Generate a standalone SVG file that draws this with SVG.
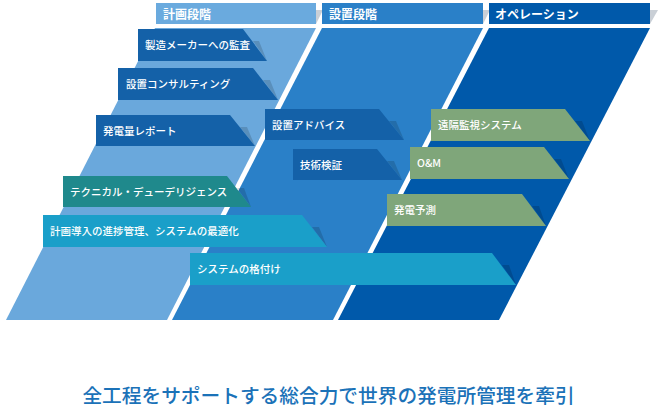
<svg xmlns="http://www.w3.org/2000/svg" width="664" height="416" viewBox="0 0 664 416">
<style>
.hd{font-family:"Noto Sans CJK JP","Noto Sans",sans-serif;font-size:12px;font-weight:bold;fill:#fff}
.bt{font-family:"Noto Sans CJK JP","Noto Sans",sans-serif;font-size:10.5px;font-weight:500;fill:#fff}
.sh{fill:#000;fill-opacity:0.15}
.hs{fill:#c9cfd6}
.b1{fill:#1461a8}
.b2{fill:#1f898c}
.b3{fill:#1a9fc9}
.b4{fill:#7fa67a}
.title{font-family:"Noto Sans CJK JP","Noto Sans",sans-serif;font-size:19.7px;font-weight:500;fill:#1b72b8}
</style>
<rect width="664" height="416" fill="#fff"/>
<g id="phases">
  <g id="phase-plan">
    <polygon class="hs" points="316,10 323,10 316,24"/>
    <rect x="156" y="3" width="160" height="21" fill="#6aaade"/>
    <text class="hd" x="163" y="18.5">計画段階</text>
    <polygon points="155,28 316,28 167,320 6,320" fill="#6aa8dc"/>
  </g>
  <g id="phase-install">
    <polygon class="hs" points="483,10 490,10 483,24"/>
    <rect x="322" y="3" width="161" height="21" fill="#2a80c8"/>
    <text class="hd" x="329" y="18.5">設置段階</text>
    <polygon points="322,28 483,28 333,320 172,320" fill="#2a80c8"/>
  </g>
  <g id="phase-operation">
    <polygon class="hs" points="650,10 658,10 650,24"/>
    <rect x="489" y="3" width="161" height="21" fill="#0059aa"/>
    <text class="hd" x="495" y="18.5">オペレーション</text>
    <polygon points="489,28 650,28 499,320 338,320" fill="#0059aa"/>
  </g>
</g>
<g id="connectors"></g>
<g id="n1">
  <polygon class="sh" points="253,41 259,41 267,61"/>
  <polygon class="b1" points="138,29 243,29 267,61 138,61"/>
  <text class="bt" x="145" y="49">製造メーカーへの監査</text>
</g>
<g id="n2">
  <polygon class="sh" points="263,80 270,80 278,100"/>
  <polygon class="b1" points="118,68 253,68 278,100 118,100"/>
  <text class="bt" x="126" y="88">設置コンサルティング</text>
</g>
<g id="n3">
  <polygon class="sh" points="240,127 247,127 255,146"/>
  <polygon class="b1" points="96,115 230,115 255,146 96,146"/>
  <text class="bt" x="103" y="134.5">発電量レポート</text>
</g>
<g id="n4">
  <polygon class="sh" points="389,121 396,121 404,140"/>
  <polygon class="b1" points="265,109 379,109 404,140 265,140"/>
  <text class="bt" x="272" y="128.5">設置アドバイス</text>
</g>
<g id="n5">
  <polygon class="sh" points="387,161 394,161 402,180"/>
  <polygon class="b1" points="293,149 377,149 402,180 293,180"/>
  <text class="bt" x="300" y="168.5">技術検証</text>
</g>
<g id="n6">
  <polygon class="sh" points="237,188 244,188 251,207"/>
  <polygon class="b2" points="63,176 227,176 251,207 63,207"/>
  <text class="bt" x="70" y="195.5">テクニカル・デューデリジェンス</text>
</g>
<g id="n7">
  <polygon class="sh" points="312,227 319,227 327,247"/>
  <polygon class="b3" points="43,215 302,215 327,247 43,247"/>
  <text class="bt" x="50" y="235">計画導入の進捗管理、システムの最適化</text>
</g>
<g id="n8">
  <polygon class="sh" points="502,265 509,265 516,285"/>
  <polygon class="b3" points="190,253 492,253 516,285 190,285"/>
  <text class="bt" x="197" y="273">システムの格付け</text>
</g>
<g id="n9">
  <polygon class="sh" points="575,121 582,121 590,141"/>
  <polygon class="b4" points="431,109 565,109 590,141 431,141"/>
  <text class="bt" x="438" y="129">遠隔監視システム</text>
</g>
<g id="n10">
  <polygon class="sh" points="554,159 561,159 569,179"/>
  <polygon class="b4" points="410,147 544,147 569,179 410,179"/>
  <text class="bt" x="417" y="167">O&amp;M</text>
</g>
<g id="n11">
  <polygon class="sh" points="532,206 539,206 546,226"/>
  <polygon class="b4" points="387,194 522,194 546,226 387,226"/>
  <text class="bt" x="394" y="214">発電予測</text>
</g>
<text class="title" x="328.5" y="403" text-anchor="middle">全工程をサポートする総合力で世界の発電所管理を牽引</text>
</svg>
